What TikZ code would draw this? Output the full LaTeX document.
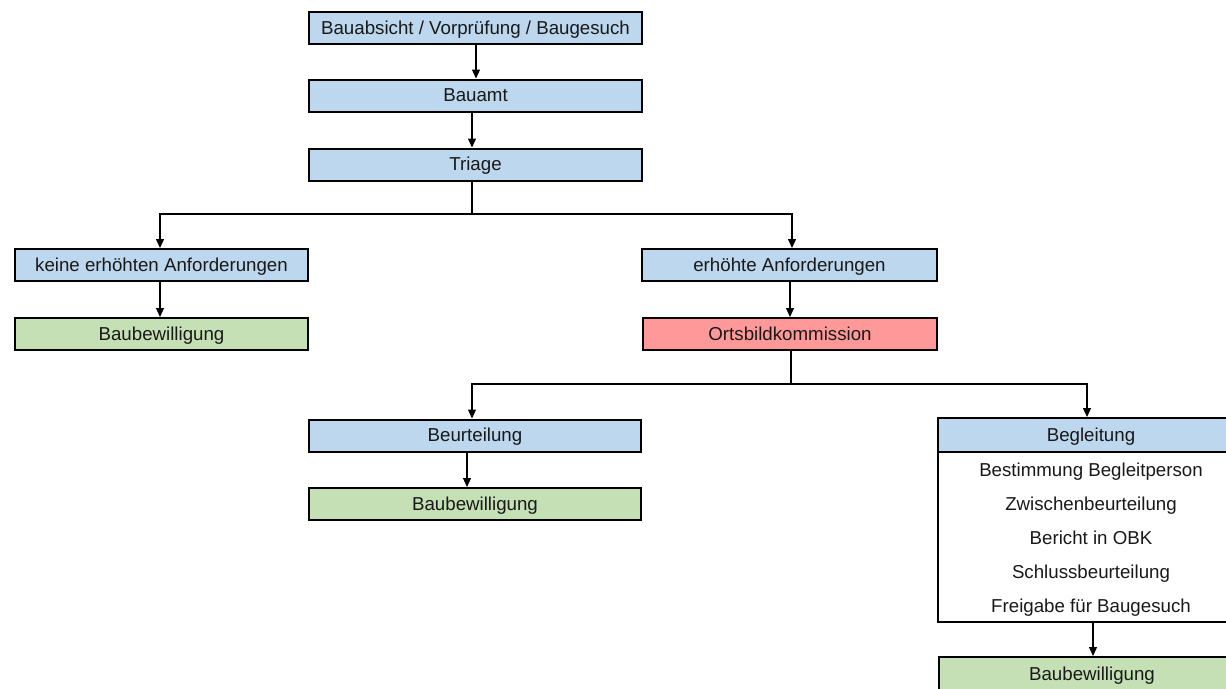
\documentclass[tikz,border=0pt]{standalone}
\usepackage{fontspec}
\setmainfont{Liberation Sans}
\usetikzlibrary{arrows.meta}
\definecolor{boxblue}{RGB}{189,215,238}
\definecolor{boxgreen}{RGB}{197,224,180}
\definecolor{boxred}{RGB}{255,153,153}
\tikzset{
  txt/.style={font=\fontsize{18.7}{34}\selectfont, text=black!90, inner sep=0pt},
  base/.style={txt, draw=black, line width=2pt, text height=16pt, text depth=4pt},
  bluebox/.style={base, fill=boxblue, minimum height=32pt},
  greenbox/.style={base, fill=boxgreen, minimum height=32pt},
  redbox/.style={base, fill=boxred, minimum height=32pt},
  bodybox/.style={base, fill=white},
  conn/.style={line width=1.2pt, draw=black},
  arr/.style={conn, -{Triangle[width=8pt,length=9pt]}},
}
\begin{document}
\begin{tikzpicture}[x=1pt,y=-1pt]
\useasboundingbox (0,0) rectangle (1226,688);
\fill[white] (0,0) rectangle (1226,688);
\node[bluebox, minimum width=333pt] (top) at (475.5,28) {Bauabsicht / Vorprüfung / Baugesuch};
\node[bluebox, minimum width=333pt] (bauamt) at (475.5,95.5) {Bauamt};
\node[bluebox, minimum width=333pt] (triage) at (475.5,164.5) {Triage};
\node[bluebox, minimum width=293pt] (keine) at (161.5,265) {keine erhöhten Anforderungen};
\node[greenbox, minimum width=293pt] (bau1) at (161.5,334) {Baubewilligung};
\node[bluebox, minimum width=295pt] (erh) at (789.5,265) {erhöhte Anforderungen};
\node[redbox, minimum width=294pt] (obk) at (790,334) {Ortsbildkommission};
\node[bluebox, minimum width=332pt] (beur) at (475,435.5) {Beurteilung};
\node[greenbox, minimum width=332pt] (bau2) at (475,504) {Baubewilligung};
\node[bodybox, minimum width=306pt, minimum height=170pt] (body) at (1091,537) {};
\node[txt, align=center] (bodytext) at (1091,540)
  {Bestimmung Begleitperson\\Zwischenbeurteilung\\Bericht in OBK\\Schlussbeurteilung\\Freigabe für Baugesuch};
\node[bluebox, minimum width=306pt, minimum height=34pt] (begl) at (1091,435) {Begleitung};
\node[greenbox, minimum width=306pt, minimum height=34pt] (bau3) at (1092,674) {Baubewilligung};
% connectors
\coordinate (c1) at (476,0);
\draw[arr] (top.south -| c1) -- (bauamt.north -| c1);
\coordinate (c2) at (472,0);
\draw[arr] (bauamt.south -| c2) -- (triage.north -| c2);
\coordinate (f1) at (472,214);
\draw[conn] (triage.south -| f1) -- (f1);
\coordinate (c3) at (160,0);
\coordinate (c4) at (792,0);
\draw[arr] (f1) -| (keine.north -| c3);
\draw[arr] (f1) -| (erh.north -| c4);
\draw[arr] (keine.south -| c3) -- (bau1.north -| c3);
\coordinate (c5) at (790,0);
\draw[arr] (erh.south -| c5) -- (obk.north -| c5);
\coordinate (f2) at (791,384);
\draw[conn] (obk.south -| f2) -- (f2);
\coordinate (c6) at (472,0);
\coordinate (c7) at (1087,0);
\draw[arr] (f2) -| (beur.north -| c6);
\draw[arr] (f2) -| (begl.north -| c7);
\coordinate (c8) at (467,0);
\draw[arr] (beur.south -| c8) -- (bau2.north -| c8);
\coordinate (c9) at (1093,0);
\draw[arr] (body.south -| c9) -- (bau3.north -| c9);
\end{tikzpicture}
\end{document}
